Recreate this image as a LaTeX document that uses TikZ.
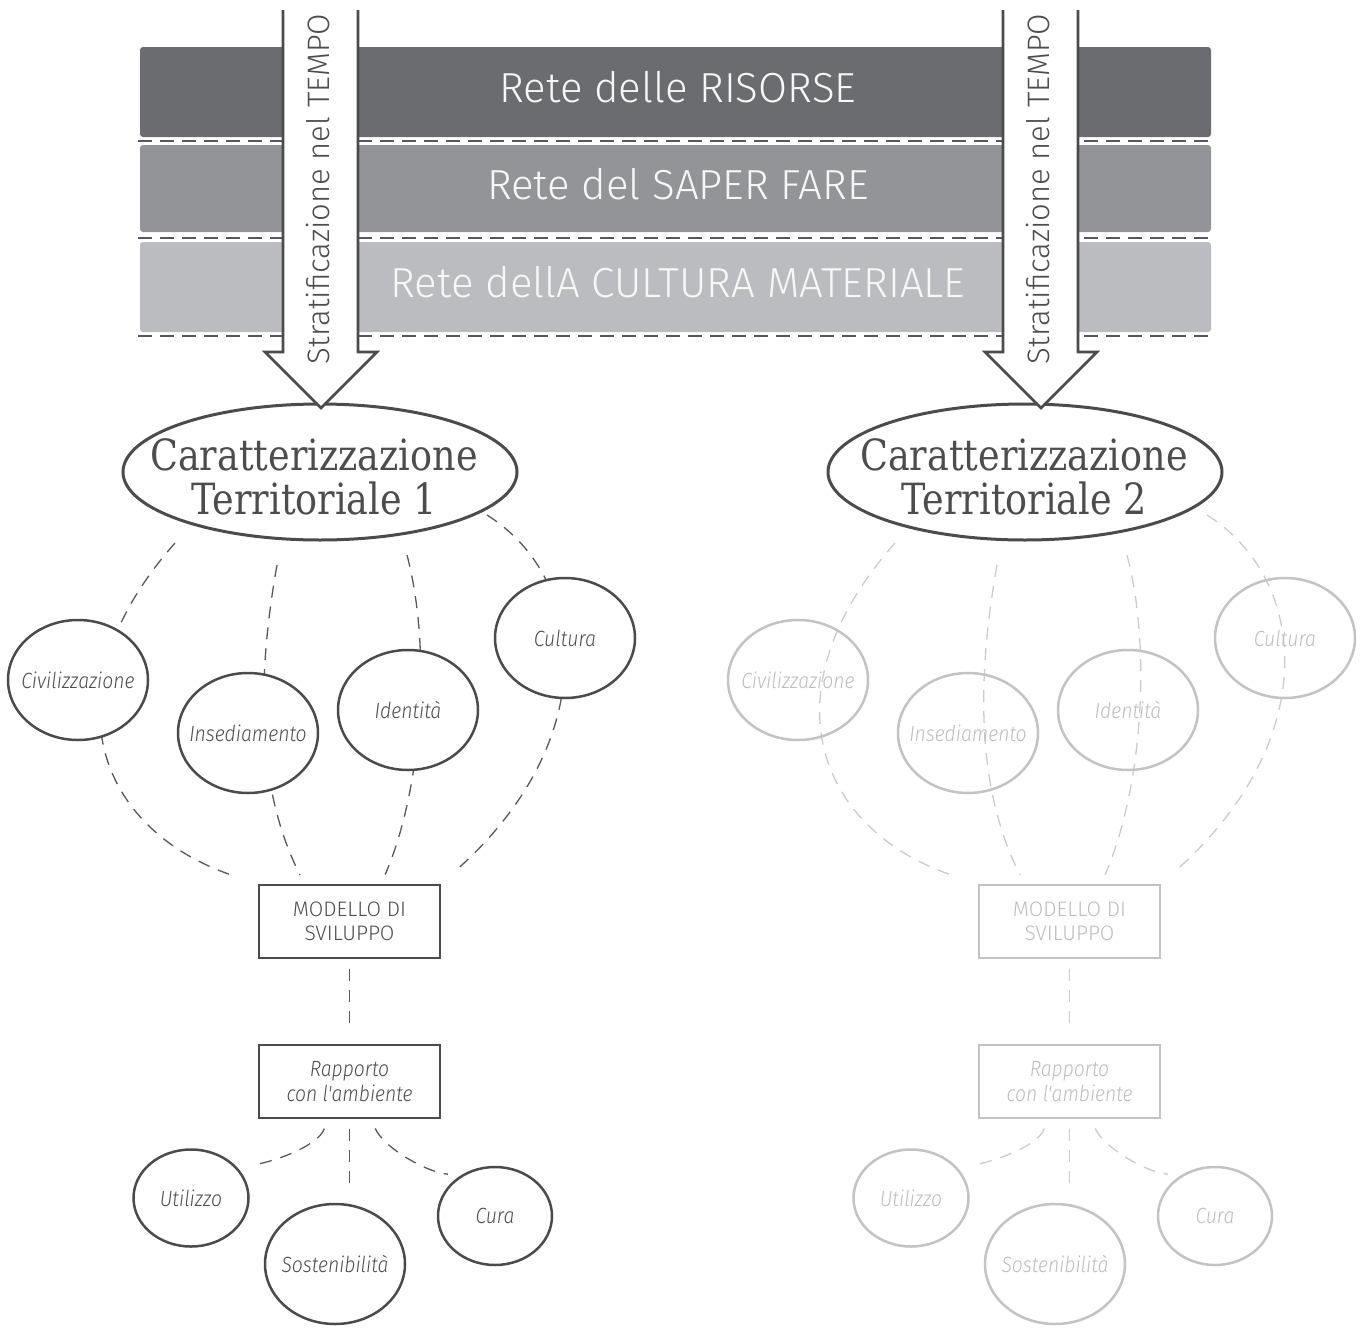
\documentclass[tikz,border=0pt]{standalone}
\usepackage{fontspec}
\usetikzlibrary{shapes.geometric,calc}
\setmainfont{Fira Sans}
\newfontfamily\thinfont{Fira Sans Light}
\newfontfamily\handfont{Fira Sans Light Italic}[FakeStretch=0.88]
\newfontfamily\slabfont{DejaVu Serif}[FakeStretch=0.85]

\definecolor{bandA}{HTML}{6B6C70}
\definecolor{bandB}{HTML}{939497}
\definecolor{bandC}{HTML}{BBBCBF}
\definecolor{bandtxt}{HTML}{F7F7F7}
\definecolor{sepgray}{HTML}{58585A}
\definecolor{dkline}{HTML}{4B4B4D}
\definecolor{dktext}{HTML}{4D4D4F}
\definecolor{dkdash}{HTML}{58585A}
\definecolor{ltline}{HTML}{C3C3C3}
\definecolor{lttext}{HTML}{BDBDBD}
\definecolor{ltdash}{HTML}{CBCBCB}

\begin{document}
\begin{tikzpicture}[x=1pt,y=-1pt,
  band/.style={rectangle, rounded corners=3pt, minimum width=1071pt,
    minimum height=90pt, inner sep=0pt},
  bandtext/.style={text=bandtxt, inner sep=0pt,
    font=\thinfont\fontsize{42}{46}\selectfont},
  sepline/.style={draw=sepgray, line width=1.8pt, dash pattern=on 14pt off 8pt},
  arrowline/.style={draw=dkline, line width=2.6pt, line join=miter, fill=white},
  arrowtext/.style={rotate=90, text=dktext, inner sep=0pt,
    font=\thinfont\fontsize{31}{34}\selectfont},
  bigell/.style={ellipse, draw=dkline, line width=3pt, fill=white,
    minimum width=394pt, minimum height=136pt, inner sep=0pt},
  bigtext/.style={align=center, text=dktext, inner sep=0pt,
    font=\slabfont\fontsize{43}{44}\selectfont},
  circ/.style={ellipse, line width=2.5pt, inner sep=0pt,
    minimum width=140pt, minimum height=120pt,
    font=\handfont\fontsize{22}{24}\selectfont},
  smallcirc/.style={circ, minimum width=115pt, minimum height=97pt},
  boxnode/.style={rectangle, line width=2.5pt, inner sep=0pt, align=center,
    minimum width=181pt, minimum height=73pt},
  linkline/.style={line width=1.3pt, dash pattern=on 12pt off 9pt}
]
\useasboundingbox (0,0) rectangle (1361,1328);

% the three stacked layers
\node[band, fill=bandA] (b1) at (675.5,92) {};
\node[band, fill=bandB, minimum height=87pt] (b2) at (675.5,188.5) {};
\node[band, fill=bandC] (b3) at (675.5,287) {};
\draw[sepline] (138,141) -- (1211,141);
\draw[sepline] (138,238) -- (1211,238);
\draw[sepline] (138,336) -- (1211,336);
\node[bandtext] (t1) at (678,87) {Rete delle RISORSE};
\node[bandtext] (t2) at (678,184) {Rete del SAPER FARE};
\node[bandtext] (t3) at (678,282) {Rete dellA CULTURA MATERIALE};

% territorial characterisations
\node[bigell] (g1) at (320,472) {};
\node[bigtext] (g1t) at (314,476.5) {Caratterizzazione\\Territoriale 1};
\node[bigell] (g2) at (1025,472) {};
\node[bigtext] (g2t) at (1024,476.5) {Caratterizzazione\\Territoriale 2};

% time arrows crossing the layers
\foreach \ax in {0,720}{
  \draw[arrowline, xshift=\ax pt] (283,10) -- (283,352) -- (265,352) -- (321,408)
    -- (377,352) -- (358,352) -- (358,10);
}
\node[arrowtext] (s1) at (318,189) {Stratificazione nel TEMPO};
\node[arrowtext] (s2) at (1038,189) {Stratificazione nel TEMPO};

% the two development trees
\foreach \dx/\n/\lc/\tc/\fc/\dc in {0/1/dkline/dktext/white/dkdash, 720/2/ltline/lttext/none/ltdash}{
\begin{scope}[xshift=\dx pt]
  \node[boxnode, draw=\lc, text=\tc, font=\thinfont\fontsize{21}{24}\selectfont]
    (m\n) at (349.5,921.5) {MODELLO DI\\SVILUPPO};
  \node[boxnode, draw=\lc, text=\tc, font=\handfont\fontsize{22}{25}\selectfont]
    (r\n) at (349.5,1081.5) {Rapporto\\con l'ambiente};

  \coordinate (pa\n) at (175,543);
  \coordinate (pb\n) at (277,565);
  \coordinate (pc\n) at (407,555);
  \coordinate (pd\n) at (487,515);

  \draw[linkline, draw=\dc, shorten >=24pt] (pa\n) .. controls (45,690) and (95,830) .. (m\n.north west);
  \draw[linkline, draw=\dc, shorten >=10pt] (pb\n) .. controls (253,700) and (262,800) .. (m\n.140);
  \draw[linkline, draw=\dc, shorten >=10pt] (pc\n) .. controls (432,650) and (422,790) .. (m\n.50);
  \draw[linkline, draw=\dc, shorten >=25pt] (pd\n) .. controls (590,580) and (600,740) .. (m\n.north east);

  \node[circ, draw=\lc, fill=\fc, text=\tc] (ci\n) at (78,680) {\makebox[0pt]{Civilizzazione}};
  \node[circ, draw=\lc, fill=\fc, text=\tc] (in\n) at (248,733) {\makebox[0pt]{Insediamento}};
  \node[circ, draw=\lc, fill=\fc, text=\tc] (id\n) at (408,710) {\makebox[0pt]{Identità}};
  \node[circ, draw=\lc, fill=\fc, text=\tc] (cu\n) at (565,638) {\makebox[0pt]{Cultura}};

  \node[smallcirc, draw=\lc, text=\tc] (u\n) at (191,1198) {\makebox[0pt]{Utilizzo}};
  \node[circ, draw=\lc, text=\tc] (so\n) at (335,1264) {\makebox[0pt]{Sostenibilità}};
  \node[smallcirc, draw=\lc, text=\tc, minimum width=114pt, minimum height=98pt]
    (c\n) at (495,1216) {\makebox[0pt]{Cura}};

  \draw[linkline, draw=\dc, shorten <=10pt, shorten >=15pt] (m\n) -- (r\n);
  \draw[linkline, draw=\dc, shorten <=10pt, shorten >=15pt] (r\n.south) -- (r\n.south |- so\n.north);
  \draw[linkline, draw=\dc, shorten <=10pt, shorten >=17pt]
    (r\n.240) .. controls +(-10,28) and +(32,-3) .. (u\n.35);
  \draw[linkline, draw=\dc, shorten <=10pt, shorten >=13pt]
    (r\n.300) .. controls +(12,28) and +(-35,-3) .. (c\n.130);
\end{scope}
}
\end{tikzpicture}
\end{document}
